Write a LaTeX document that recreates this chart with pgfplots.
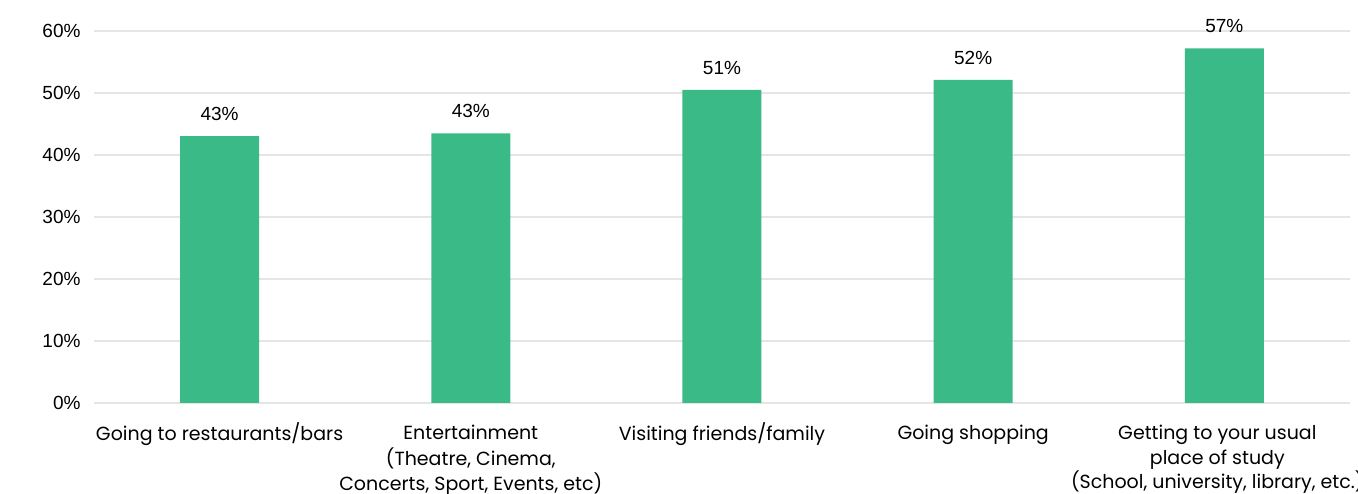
\documentclass[border=0pt]{standalone}
\usepackage{pgfplots}
\pgfplotsset{compat=1.18}
\usepackage{fontspec}
\setmainfont{Poppins}
\newfontfamily\arialf{Liberation Sans}
\usetikzlibrary{calc}
\definecolor{barg}{HTML}{3ABA87}
\definecolor{gridg}{HTML}{E5E5E5}
\begin{document}
\begin{tikzpicture}
\begin{axis}[
  name=ax,
  at={(0,0)}, anchor=south west,
  scale only axis,
  width=1256pt, height=372pt,
  xmin=-0.5, xmax=4.5,
  ymin=0, ymax=60,
  ytick={0,10,20,30,40,50,60},
  yticklabel={\pgfmathprintnumber[assume math mode=true]{\tick}\%},
  yticklabel style={font=\arialf\fontsize{19}{22}\selectfont, xshift=-10pt},
  xtick={0,1,2,3,3.972},
  xticklabels={Going to restaurants/bars,Entertainment\\(Theatre{,} Cinema{,}\\Concerts{,} Sport{,} Events{,} etc),Visiting friends/family,Going shopping,Getting to your usual\\place of study\\(School{,} university{,} library{,} etc.)},
  typeset ticklabels with strut,
  xticklabel style={font=\fontsize{19}{24.5}\selectfont, align=center, anchor=north, yshift=-16pt},
  major tick length=0pt,
  axis line style={draw=none},
  ymajorgrids,
  grid style={gridg, line width=1.6pt},
  bar width=79pt,
  ybar,
  nodes near coords,
  point meta=explicit symbolic,
  every node near coord/.append style={font=\arialf\fontsize{19}{22}\selectfont, black, anchor=south, yshift=12pt},
  clip=false,
]
\addplot[fill=barg, draw=none] coordinates {
  (0,43.05) [43\%]
  (1,43.5) [43\%]
  (2,50.5) [51\%]
  (3,52.1) [52\%]
  (4,57.2) [57\%]
};
\end{axis}
\pgfresetboundingbox
\path ($(ax.south west)+(-94pt,-91pt)$) rectangle ($(ax.south west)+(1264pt,403pt)$);
\end{tikzpicture}
\end{document}
